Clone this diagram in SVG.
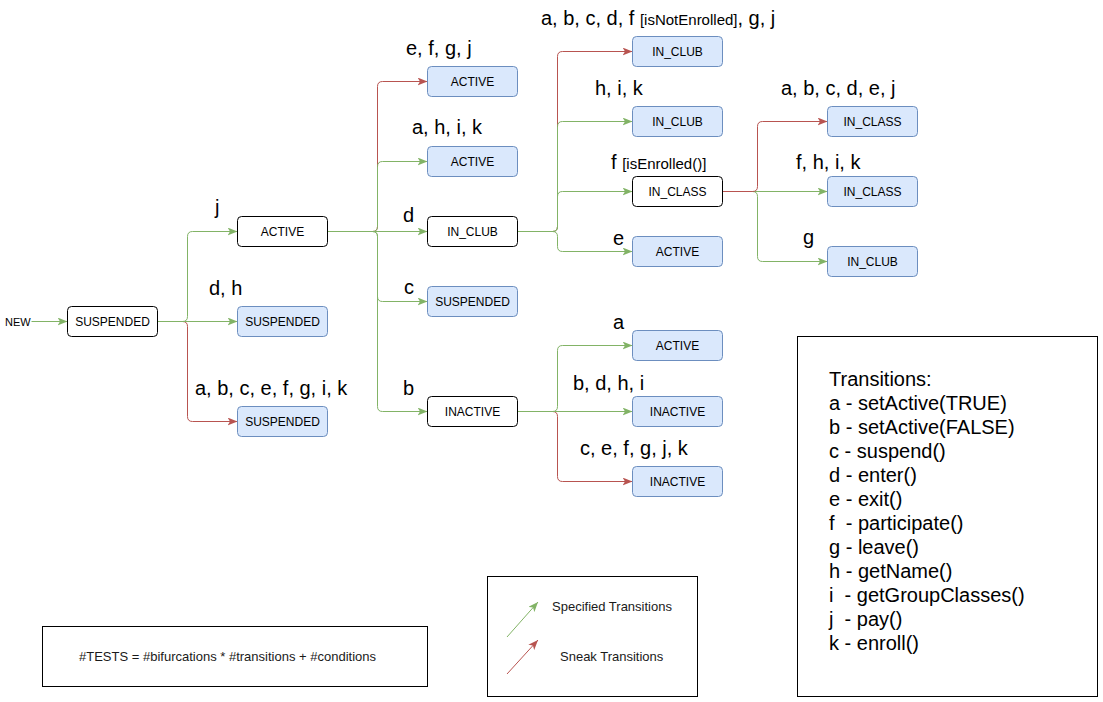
<svg xmlns="http://www.w3.org/2000/svg" width="1103" height="702" viewBox="0 0 1103 702">
<style>
.n{stroke-width:1}
.w{fill:#ffffff;stroke:#000000}
.b{fill:#dae8fc;stroke:#6c8ebf}
.nt{font-family:"Liberation Sans",Arial,sans-serif;font-size:12px;fill:#000;text-anchor:middle}
.lb{font-family:"Liberation Sans",Arial,sans-serif;font-size:20px;fill:#000}
.sm{font-size:15px}
.g{fill:none;stroke:#82b366;stroke-width:1;marker-end:url(#ag)}
.r{fill:none;stroke:#b85450;stroke-width:1;marker-end:url(#ar)}
.box{fill:#fff;stroke:#000;stroke-width:1}
.lt{font-family:"Liberation Sans",Arial,sans-serif;font-size:13px;fill:#1a1a1a}
</style>
<defs>
<marker id="ag" markerUnits="userSpaceOnUse" markerWidth="11" markerHeight="8" refX="10" refY="4" orient="auto"><path d="M0,0 L10,4 L0,8 L2.5,4 z" fill="#82b366"/></marker>
<marker id="ar" markerUnits="userSpaceOnUse" markerWidth="11" markerHeight="8" refX="10" refY="4" orient="auto"><path d="M0,0 L10,4 L0,8 L2.5,4 z" fill="#b85450"/></marker>
</defs>
<rect width="1103" height="702" fill="#ffffff"/>
<g id="connectors" transform="translate(0.5,0.5)">
<path class="g" d="M31 321 H67"/>
<path class="r" d="M157 321 H182 Q187 321 187 326 V416 Q187 421 192 421 H237"/>
<path class="g" d="M157 321 H182 Q187 321 187 316 V236 Q187 231 192 231 H237"/>
<path class="g" d="M157 321 H237"/>
<path class="r" d="M327 231 H372 Q377 231 377 226 V86 Q377 81 382 81 H427"/>
<path class="g" d="M327 231 H372 Q377 231 377 226 V166 Q377 161 382 161 H427"/>
<path class="g" d="M327 231 H427"/>
<path class="g" d="M327 231 H372 Q377 231 377 236 V296 Q377 301 382 301 H427"/>
<path class="g" d="M327 231 H372 Q377 231 377 236 V406 Q377 411 382 411 H427"/>
<path class="r" d="M517 231 H552 Q557 231 557 226 V56 Q557 51 562 51 H632"/>
<path class="g" d="M517 231 H552 Q557 231 557 226 V126 Q557 121 562 121 H632"/>
<path class="g" d="M517 231 H552 Q557 231 557 226 V196 Q557 191 562 191 H632"/>
<path class="g" d="M517 231 H552 Q557 231 557 236 V246 Q557 251 562 251 H632"/>
<path class="g" d="M722 191 H752 Q757 191 757 196 V256 Q757 261 762 261 H827"/>
<path class="g" d="M722 191 H827"/>
<path class="r" d="M722 191 H752 Q757 191 757 186 V126 Q757 121 762 121 H827"/>
<path class="r" d="M517 411 H552 Q557 411 557 416 V476 Q557 481 562 481 H632"/>
<path class="g" d="M517 411 H552 Q557 411 557 406 V350 Q557 345 562 345 H632"/>
<path class="g" d="M517 411 H632"/>
</g>
<g id="n-new"><text x="5" y="326" font-family="Liberation Sans,Arial,sans-serif" font-size="11" fill="#000">NEW</text></g>
<g id="n1"><rect class="n w" x="67.5" y="306.5" width="90" height="30" rx="4"/><text class="nt" x="112.5" y="326">SUSPENDED</text></g>
<g id="n2"><rect class="n w" x="237.5" y="216.5" width="90" height="30" rx="4"/><text class="nt" x="282.5" y="236">ACTIVE</text></g>
<g id="n3"><rect class="n b" x="237.5" y="306.5" width="90" height="30" rx="4"/><text class="nt" x="282.5" y="326">SUSPENDED</text></g>
<g id="n4"><rect class="n b" x="237.5" y="406.5" width="90" height="30" rx="4"/><text class="nt" x="282.5" y="426">SUSPENDED</text></g>
<g id="n5"><rect class="n b" x="427.5" y="66.5" width="90" height="30" rx="4"/><text class="nt" x="472.5" y="86">ACTIVE</text></g>
<g id="n6"><rect class="n b" x="427.5" y="146.5" width="90" height="30" rx="4"/><text class="nt" x="472.5" y="166">ACTIVE</text></g>
<g id="n7"><rect class="n w" x="427.5" y="216.5" width="90" height="30" rx="4"/><text class="nt" x="472.5" y="236">IN_CLUB</text></g>
<g id="n8"><rect class="n b" x="427.5" y="286.5" width="90" height="30" rx="4"/><text class="nt" x="472.5" y="306">SUSPENDED</text></g>
<g id="n9"><rect class="n w" x="427.5" y="396.5" width="90" height="30" rx="4"/><text class="nt" x="472.5" y="416">INACTIVE</text></g>
<g id="n10"><rect class="n b" x="632.5" y="36.5" width="90" height="30" rx="4"/><text class="nt" x="677.5" y="56">IN_CLUB</text></g>
<g id="n11"><rect class="n b" x="632.5" y="106.5" width="90" height="30" rx="4"/><text class="nt" x="677.5" y="126">IN_CLUB</text></g>
<g id="n12"><rect class="n w" x="632.5" y="176.5" width="90" height="30" rx="4"/><text class="nt" x="677.5" y="196">IN_CLASS</text></g>
<g id="n13"><rect class="n b" x="632.5" y="236.5" width="90" height="30" rx="4"/><text class="nt" x="677.5" y="256">ACTIVE</text></g>
<g id="n14"><rect class="n b" x="632.5" y="330.5" width="90" height="30" rx="4"/><text class="nt" x="677.5" y="350">ACTIVE</text></g>
<g id="n15"><rect class="n b" x="632.5" y="396.5" width="90" height="30" rx="4"/><text class="nt" x="677.5" y="416">INACTIVE</text></g>
<g id="n16"><rect class="n b" x="632.5" y="466.5" width="90" height="30" rx="4"/><text class="nt" x="677.5" y="486">INACTIVE</text></g>
<g id="n17"><rect class="n b" x="827.5" y="106.5" width="90" height="30" rx="4"/><text class="nt" x="872.5" y="126">IN_CLASS</text></g>
<g id="n18"><rect class="n b" x="827.5" y="176.5" width="90" height="30" rx="4"/><text class="nt" x="872.5" y="196">IN_CLASS</text></g>
<g id="n19"><rect class="n b" x="827.5" y="246.5" width="90" height="30" rx="4"/><text class="nt" x="872.5" y="266">IN_CLUB</text></g>
<g id="labels">
<text class="lb" x="215" y="214">j</text>
<text class="lb" x="209" y="295">d, h</text>
<text class="lb" x="195" y="395">a, b, c, e, f, g, i, k</text>
<text class="lb" x="406" y="55">e, f, g, j</text>
<text class="lb" x="412" y="134">a, h, i, k</text>
<text class="lb" x="403" y="222">d</text>
<text class="lb" x="404" y="294">c</text>
<text class="lb" x="403" y="395">b</text>
<text class="lb" x="541" y="25">a, b, c, d, f <tspan class="sm">[isNotEnrolled]</tspan>, g, j</text>
<text class="lb" x="595" y="95">h, i, k</text>
<text class="lb" x="611" y="169">f <tspan class="sm">[isEnrolled()]</tspan></text>
<text class="lb" x="613" y="245">e</text>
<text class="lb" x="613" y="329">a</text>
<text class="lb" x="573" y="390">b, d, h, i</text>
<text class="lb" x="580" y="455">c, e, f, g, j, k</text>
<text class="lb" x="781" y="95">a, b, c, d, e, j</text>
<text class="lb" x="796" y="169">f, h, i, k</text>
<text class="lb" x="803" y="244">g</text>
</g>
<g id="formula"><rect class="box" x="42.5" y="626.5" width="385" height="60"/><text class="lt" x="79" y="661">#TESTS = #bifurcations * #transitions + #conditions</text></g>
<g id="legend"><rect class="box" x="487.5" y="576.5" width="210" height="120"/>
<path class="g" d="M507 637 L538 602"/>
<path class="r" d="M507 674 L538 640"/>
<text class="lt" x="552" y="611">Specified Transitions</text>
<text class="lt" x="560" y="661">Sneak Transitions</text>
</g>
<g id="transitions"><rect class="box" x="797.5" y="336.5" width="300" height="360"/>
<text class="lb" x="829" y="386">Transitions:</text>
<text class="lb" x="829" y="410">a - setActive(TRUE)</text>
<text class="lb" x="829" y="434">b - setActive(FALSE)</text>
<text class="lb" x="829" y="458">c - suspend()</text>
<text class="lb" x="829" y="482">d - enter()</text>
<text class="lb" x="829" y="506">e - exit()</text>
<text class="lb" x="829" y="530" xml:space="preserve">f  - participate()</text>
<text class="lb" x="829" y="554">g - leave()</text>
<text class="lb" x="829" y="578">h - getName()</text>
<text class="lb" x="829" y="602" xml:space="preserve">i  - getGroupClasses()</text>
<text class="lb" x="829" y="626" xml:space="preserve">j  - pay()</text>
<text class="lb" x="829" y="650">k - enroll()</text>
</g>
</svg>
